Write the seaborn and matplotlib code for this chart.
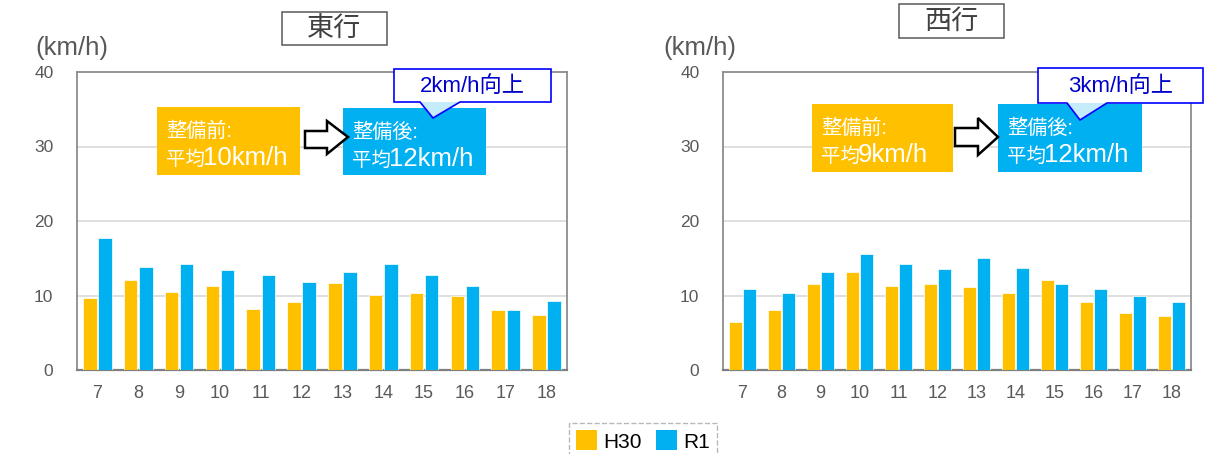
import matplotlib
matplotlib.use("Agg")
import matplotlib.pyplot as plt
import matplotlib.patches as mpatches
import seaborn as sns
import pandas as pd

# ---------------- data ----------------
hours = ["7", "8", "9", "10", "11", "12", "13", "14", "15", "16", "17", "18"]
series_names = ["H30", "R1"]
east_h30 = [9.6, 12.1, 10.5, 11.3, 8.2, 9.1, 11.7, 10.1, 10.3, 9.9, 8.0, 7.4]
east_r1 = [17.7, 13.8, 14.2, 13.4, 12.8, 11.8, 13.2, 14.2, 12.8, 11.3, 8.0, 9.2]
west_h30 = [6.4, 8.0, 11.5, 13.1, 11.3, 11.5, 11.1, 10.3, 12.1, 9.1, 7.6, 7.2]
west_r1 = [10.9, 10.3, 13.1, 15.6, 14.2, 13.5, 15.0, 13.7, 11.5, 10.9, 10.0, 9.1]
titles = ["東行", "西行"]
before_avg = ["10km/h", "9km/h"]
after_avg = ["12km/h", "12km/h"]
gains = ["2km/h向上", "3km/h向上"]
y_ticks = [0, 10, 20, 30, 40]
unit_label = "(km/h)"

ORANGE = "#FFC000"
BLUE = "#00B0F0"
GRAY_TXT = "#595959"

sns.set_theme(style="white")
FAM = ["Liberation Sans", "Noto Sans CJK JP", "DejaVu Sans"]
plt.rcParams["font.family"] = FAM

W, H = 1222, 454
fig = plt.figure(figsize=(W / 100, H / 100), dpi=100)


def fx(px):
    return px / W


def fy(py):
    return 1 - py / H


def P(x, y):
    return (fx(x), fy(y))


def make_df(h30, r1):
    rows = []
    for h, a, b in zip(hours, h30, r1):
        rows.append({"hour": h, "speed": a, "series": series_names[0]})
        rows.append({"hour": h, "speed": b, "series": series_names[1]})
    return pd.DataFrame(rows)


axes_px = [(77, 567), (723, 1191)]
top_px, bot_px = 72, 370
datasets = [(east_h30, east_r1), (west_h30, west_r1)]

for i, ((x0, x1), (h30, r1)) in enumerate(zip(axes_px, datasets)):
    ax = fig.add_axes([fx(x0), fy(bot_px), fx(x1) - fx(x0), (bot_px - top_px) / H])
    df = make_df(h30, r1)
    sns.barplot(data=df, x="hour", y="speed", hue="series", order=hours,
                hue_order=series_names, palette=[ORANGE, BLUE], saturation=1,
                width=0.74, gap=0.1, ax=ax, legend=False, edgecolor="white",
                linewidth=0.5, err_kws={"linewidth": 0}, zorder=3)
    ax.set_ylim(0, 40)
    ax.set_xlim(-0.5, len(hours) - 0.5)
    ax.set_yticks(y_ticks)
    ax.set_xlabel("")
    ax.set_ylabel("")
    for v in y_ticks[1:-1]:
        ax.axhline(v, color="#d9d9d9", lw=1.2, zorder=1)
    for s in ["left", "right", "top"]:
        ax.spines[s].set_color("#8c8c8c")
        ax.spines[s].set_linewidth(1.3)
    ax.spines["bottom"].set_color("#7f7f7f")
    ax.spines["bottom"].set_linewidth(1.6)
    ax.tick_params(axis="y", length=0, pad=17, labelsize=12.5, labelcolor=GRAY_TXT)
    ax.tick_params(axis="x", length=0, pad=11, labelsize=13, labelcolor=GRAY_TXT)

# unit labels
for xp in [35, 663]:
    fig.text(fx(xp), fy(48), unit_label, fontsize=18.5, color=GRAY_TXT,
             ha="left", va="center")

# title boxes
title_boxes = [(282, 12, 387, 45), (899, 4, 1004, 38)]
for (l, t, r, b), txt in zip(title_boxes, titles):
    fig.add_artist(mpatches.Rectangle(P(l, b), fx(r) - fx(l), (b - t) / H,
                                      transform=fig.transFigure, facecolor="white",
                                      edgecolor="#595959", lw=1.1, zorder=5))
    fig.text(fx((l + r) / 2), fy((t + b) / 2 + 1), txt, fontsize=19.5, color="#404040",
             ha="center", va="center", zorder=6)

# annotation boxes
ann = [
    dict(ob=(157, 107, 300, 175), bb=(343, 108, 486, 175),
         arrow=(305, 327, 348, 131, 148, 121, 154, 137),
         call=(394, 69, 551, 102), ptr=(420, 460, 433, 118)),
    dict(ob=(812, 104, 953, 172), bb=(998, 104, 1142, 172),
         arrow=(955, 978, 998, 128, 146, 118, 155, 137),
         call=(1038, 68, 1203, 103), ptr=(1067, 1107, 1080, 120)),
]
for i, a in enumerate(ann):
    for (l, t, r, b), col, head, val in [(a["ob"], ORANGE, "整備前:", before_avg[i]),
                                         (a["bb"], BLUE, "整備後:", after_avg[i])]:
        fig.add_artist(mpatches.Rectangle(P(l, b), fx(r) - fx(l), (b - t) / H,
                                          transform=fig.transFigure, facecolor=col,
                                          edgecolor="none", zorder=5))
        fig.text(fx(l + 9), fy(t + 30), head, fontsize=14.5, color="white",
                 ha="left", va="baseline", zorder=6)
        fig.text(fx(l + 9), fy(t + 58), "平均", fontsize=14, color="white",
                 ha="left", va="baseline", zorder=6)
        fig.text(fx(l + 46), fy(t + 58), val, fontsize=18.5, color="white",
                 ha="left", va="baseline", zorder=6)
    # block arrow
    x0, xh, xt, bt, bb_, ht, hb, ty = a["arrow"]
    pts = [P(x0, bt), P(xh, bt), P(xh, ht), P(xt, ty), P(xh, hb), P(xh, bb_), P(x0, bb_)]
    fig.add_artist(mpatches.Polygon(pts, closed=True, transform=fig.transFigure,
                                    facecolor="white", edgecolor="black", lw=1.8,
                                    zorder=6))
    # callout
    l, t, r, b = a["call"]
    pl, pr, ptx, pty = a["ptr"]
    fig.add_artist(mpatches.Rectangle(P(l, b), fx(r) - fx(l), (b - t) / H,
                                      transform=fig.transFigure, facecolor="white",
                                      edgecolor="none", zorder=7))
    fig.add_artist(mpatches.Polygon([P(pl, b), P(pr, b), P(ptx, pty)], closed=True,
                                    transform=fig.transFigure, facecolor="#c4ecfa",
                                    edgecolor="none", zorder=7))
    outline = [P(l, t), P(r, t), P(r, b), P(pr, b), P(ptx, pty), P(pl, b), P(l, b)]
    fig.add_artist(mpatches.Polygon(outline, closed=True, transform=fig.transFigure,
                                    facecolor="none", edgecolor="#0000ff", lw=1.2,
                                    zorder=8))
    fig.text(fx((l + r) / 2), fy((t + b) / 2 + 1), gains[i], fontsize=16,
             color="#0000cc", ha="center", va="center", zorder=9)

# legend
handles = [mpatches.Patch(facecolor=ORANGE, edgecolor="none"),
           mpatches.Patch(facecolor=BLUE, edgecolor="none")]
leg = fig.legend(handles, series_names, loc="center",
                 bbox_to_anchor=(fx(643), fy(441)), ncol=2, fontsize=15,
                 frameon=True, fancybox=False, handlelength=1.0, handleheight=1.1,
                 handletextpad=0.3, columnspacing=0.7, borderpad=0.35,
                 borderaxespad=0)
fr = leg.get_frame()
fr.set_edgecolor("#a6a6a6")
fr.set_linestyle("--")
fr.set_linewidth(1.0)
for t in leg.get_texts():
    t.set_color("black")

fig.savefig("out.png", dpi=100)
